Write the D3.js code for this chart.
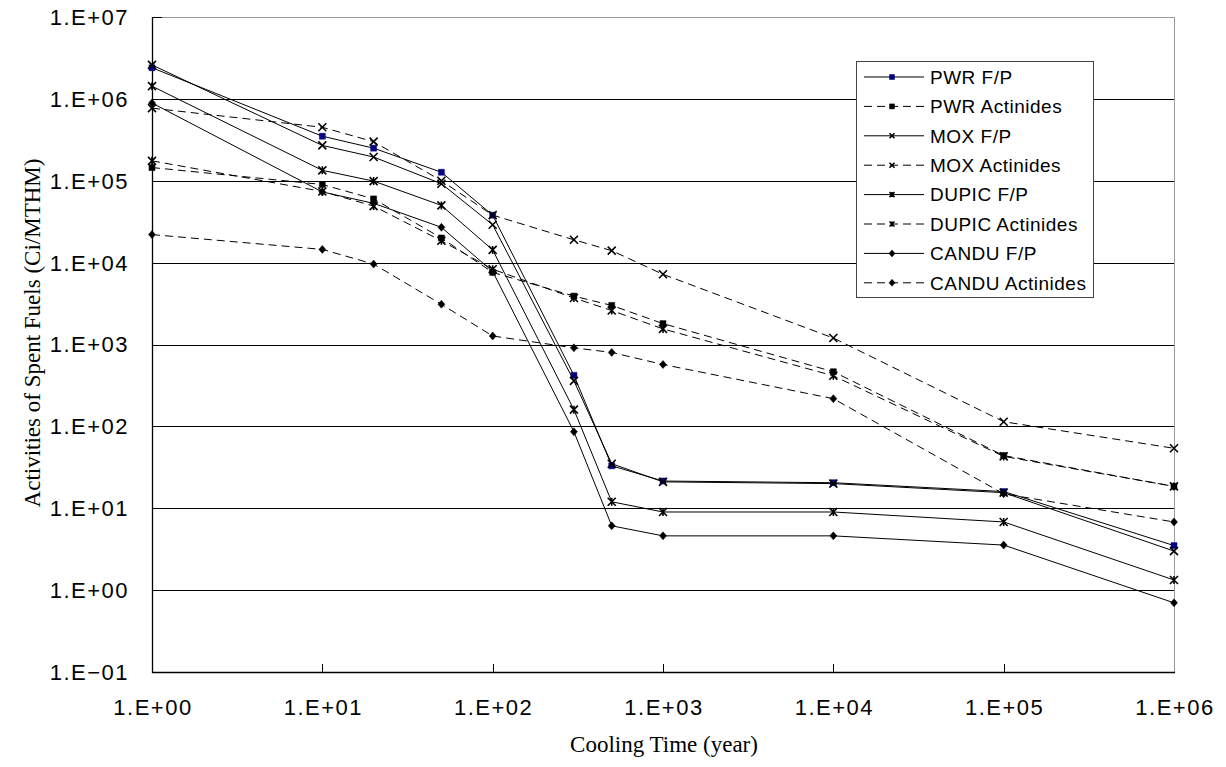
<!DOCTYPE html>
<html>
<head>
<script src="https://d3js.org/d3.v7.min.js"></script>
<style>
  body { margin: 0; background: #fff; }
  .tick-label { font-family: 'Liberation Sans', Arial, sans-serif; font-size: 22px; letter-spacing: 1.5px; fill: #000; }
  .axis-title { font-family: 'Liberation Serif', 'Times New Roman', serif; font-size: 23px; fill: #000; }
  .legend-text { font-family: 'Liberation Sans', Arial, sans-serif; font-size: 19px; letter-spacing: 0.5px; fill: #000; }
</style>
</head>
<body>
<script>

// cooling time (year)
var years = [1, 10, 20, 50, 100, 300, 500, 1000, 1e4, 1e5, 1e6];

// activities (Ci/MTHM)
var pwrFP    = [2.4e6, 3.5e5, 2.5e5, 1.27e5, 3.8e4, 420, 33, 21.5, 20.5, 16, 3.5];
var pwrAct   = [1.45e5, 9.0e4, 6.0e4, 2.0e4, 7.6e3, 3.9e3, 3.0e3, 1.8e3, 465, 44, 18.5];
var moxFP    = [2.6e6, 2.7e5, 1.95e5, 9.2e4, 2.9e4, 360, 35, 21, 20, 15.5, 3.0];
var moxAct   = [7.7e5, 4.5e5, 3.0e5, 1.0e5, 3.8e4, 1.9e4, 1.4e4, 7.2e3, 1.2e3, 114, 54];
var dupicFP  = [1.43e6, 1.34e5, 9.9e4, 5.0e4, 1.43e4, 160, 12, 9.0, 9.0, 6.8, 1.33];
var dupicAct = [1.75e5, 7.4e4, 4.9e4, 1.85e4, 8.3e3, 3.7e3, 2.6e3, 1.55e3, 415, 43, 18.5];
var canduFP  = [8.9e5, 7.3e4, 5.3e4, 2.7e4, 7.8e3, 86, 6.1, 4.6, 4.6, 3.55, 0.7];
var canduAct = [2.2e4, 1.45e4, 9.6e3, 3.1e3, 1.27e3, 910, 800, 570, 218, 15, 6.8];

var seriesNames = ["PWR F/P", "PWR Actinides", "MOX F/P", "MOX Actinides",
                   "DUPIC F/P", "DUPIC Actinides", "CANDU F/P", "CANDU Actinides"];
var seriesValues = [pwrFP, pwrAct, moxFP, moxAct, dupicFP, dupicAct, canduFP, canduAct];
var seriesMarks = ["square", "square", "x", "x", "star", "star", "diamond", "diamond"];

var xTicks = [1, 10, 100, 1e3, 1e4, 1e5, 1e6];
var xTickLabels = ["1.E+00", "1.E+01", "1.E+02", "1.E+03", "1.E+04", "1.E+05", "1.E+06"];
var yTicks = [0.1, 1, 10, 100, 1e3, 1e4, 1e5, 1e6, 1e7];
var yTickLabels = ["1.E\u221201", "1.E+00", "1.E+01", "1.E+02", "1.E+03", "1.E+04", "1.E+05", "1.E+06", "1.E+07"];

(function() {

var W = 1226, H = 767;
var pLeft = 152, pRight = 1174, pTop = 17, pBottom = 672;

var svg = d3.select("body").append("svg")
    .attr("width", W)
    .attr("height", H);

var x = d3.scaleLog().domain([1, 1e6]).range([pLeft, pRight]);
var y = d3.scaleLog().domain([0.1, 1e7]).range([pBottom, pTop]);

// border (grey top/right)
svg.append("rect")
    .attr("x", pLeft + 0.5).attr("y", pTop + 0.5)
    .attr("width", pRight - pLeft).attr("height", pBottom - pTop)
    .attr("fill", "none")
    .attr("stroke", "#9a9a9a");

// horizontal grid
svg.selectAll(".grid")
    .data(yTicks.slice(1, -1))
    .enter().append("line")
    .attr("class", "grid")
    .attr("x1", pLeft).attr("x2", pRight)
    .attr("y1", function(d) { return Math.round(y(d)) + 0.5; })
    .attr("y2", function(d) { return Math.round(y(d)) + 0.5; })
    .attr("stroke", "#000")
    .attr("stroke-width", 1);

// y axis tick inside at the top
svg.append("line")
    .attr("x1", pLeft + 0.5).attr("x2", pLeft + 10)
    .attr("y1", pTop + 0.5).attr("y2", pTop + 0.5)
    .attr("stroke", "#000");

// x axis ticks, pointing up
svg.selectAll(".xtick")
    .data(xTicks.slice(1, -1))
    .enter().append("line")
    .attr("x1", function(d) { return Math.round(x(d)) + 0.5; })
    .attr("x2", function(d) { return Math.round(x(d)) + 0.5; })
    .attr("y1", pBottom).attr("y2", pBottom - 8)
    .attr("stroke", "#000");

// main axes (black left/bottom)
svg.append("line")
    .attr("x1", pLeft + 0.5).attr("x2", pLeft + 0.5)
    .attr("y1", pTop).attr("y2", pBottom + 1)
    .attr("stroke", "#000").attr("stroke-width", 1.3);
svg.append("line")
    .attr("x1", pLeft).attr("x2", pRight + 1)
    .attr("y1", pBottom + 0.5).attr("y2", pBottom + 0.5)
    .attr("stroke", "#000").attr("stroke-width", 1.3);

// tick labels
svg.selectAll(".ylab")
    .data(yTicks)
    .enter().append("text")
    .attr("class", "tick-label")
    .attr("x", 129)
    .attr("y", function(d) { return y(d); })
    .attr("dy", "0.36em")
    .attr("text-anchor", "end")
    .text(function(d, i) { return yTickLabels[i]; });

svg.selectAll(".xlab")
    .data(xTicks)
    .enter().append("text")
    .attr("class", "tick-label")
    .attr("x", function(d) { return x(d) + 1; })
    .attr("y", 707)
    .attr("dy", "0.36em")
    .attr("text-anchor", "middle")
    .text(function(d, i) { return xTickLabels[i]; });

// axis titles
svg.append("text")
    .attr("class", "axis-title")
    .attr("x", 664).attr("y", 752)
    .attr("text-anchor", "middle")
    .text("Cooling Time (year)");

svg.append("text")
    .attr("class", "axis-title")
    .attr("transform", "translate(40,333) rotate(-90)")
    .attr("text-anchor", "middle")
    .text("Activities of Spent Fuels (Ci/MTHM)");

// marker shapes
function markPath(type, s) {
    var h = s / 2;
    if (type === "square") return "M" + (-h) + "," + (-h) + "h" + s + "v" + s + "h" + (-s) + "Z";
    if (type === "diamond") return "M0," + (-h - 0.5) + "L" + (h) + ",0L0," + (h + 0.5) + "L" + (-h) + ",0Z";
    if (type === "x") return "M" + (-h) + "," + (-h) + "L" + h + "," + h + "M" + (-h) + "," + h + "L" + h + "," + (-h);
    // star = x + vertical bar
    return "M" + (-h) + "," + (-h) + "L" + h + "," + h + "M" + (-h) + "," + h + "L" + h + "," + (-h) +
           "M0," + (-h) + "L0," + h;
}

function drawMark(g, type, isBlue, s) {
    var filled = (type === "square" || type === "diamond");
    g.append("path")
        .attr("d", markPath(type, s))
        .attr("fill", filled ? (isBlue ? "#000080" : "#000") : "none")
        .attr("stroke", isBlue ? "#000080" : "#000")
        .attr("stroke-width", filled ? 0.5 : 1.6);
}

var line = d3.line()
    .x(function(d) { return x(d[0]); })
    .y(function(d) { return y(d[1]); });

seriesValues.forEach(function(vals, i) {
    var pts = years.map(function(t, j) { return [t, vals[j]]; });
    var dashed = i % 2 === 1;
    var g = svg.append("g");
    g.append("path")
        .attr("d", line(pts))
        .attr("fill", "none")
        .attr("stroke", "#000")
        .attr("stroke-width", 1)
        .attr("stroke-dasharray", dashed ? "8,5" : null);
    pts.forEach(function(p) {
        var m = g.append("g").attr("transform", "translate(" + x(p[0]) + "," + y(p[1]) + ")");
        drawMark(m, seriesMarks[i], i === 0, seriesMarks[i] === "diamond" ? 7 : (seriesMarks[i] === "square" ? 6 : 8));
    });
});

// legend
var lg = svg.append("g");
lg.append("rect")
    .attr("x", 856.5).attr("y", 61.5)
    .attr("width", 237).attr("height", 236)
    .attr("fill", "#fff")
    .attr("stroke", "#444");

seriesNames.forEach(function(name, i) {
    var ry = 77 + i * 29.4;
    var dashed = i % 2 === 1;
    lg.append("line")
        .attr("x1", 864).attr("x2", 924)
        .attr("y1", ry).attr("y2", ry)
        .attr("stroke", "#000")
        .attr("stroke-dasharray", dashed ? "8,5" : null);
    var m = lg.append("g").attr("transform", "translate(892," + ry + ")");
    drawMark(m, seriesMarks[i], i === 0, seriesMarks[i] === "diamond" ? 6 : 5);
    lg.append("text")
        .attr("class", "legend-text")
        .attr("x", 930).attr("y", ry)
        .attr("dy", "0.36em")
        .text(name);
});

})();

</script>
</body>
</html>
